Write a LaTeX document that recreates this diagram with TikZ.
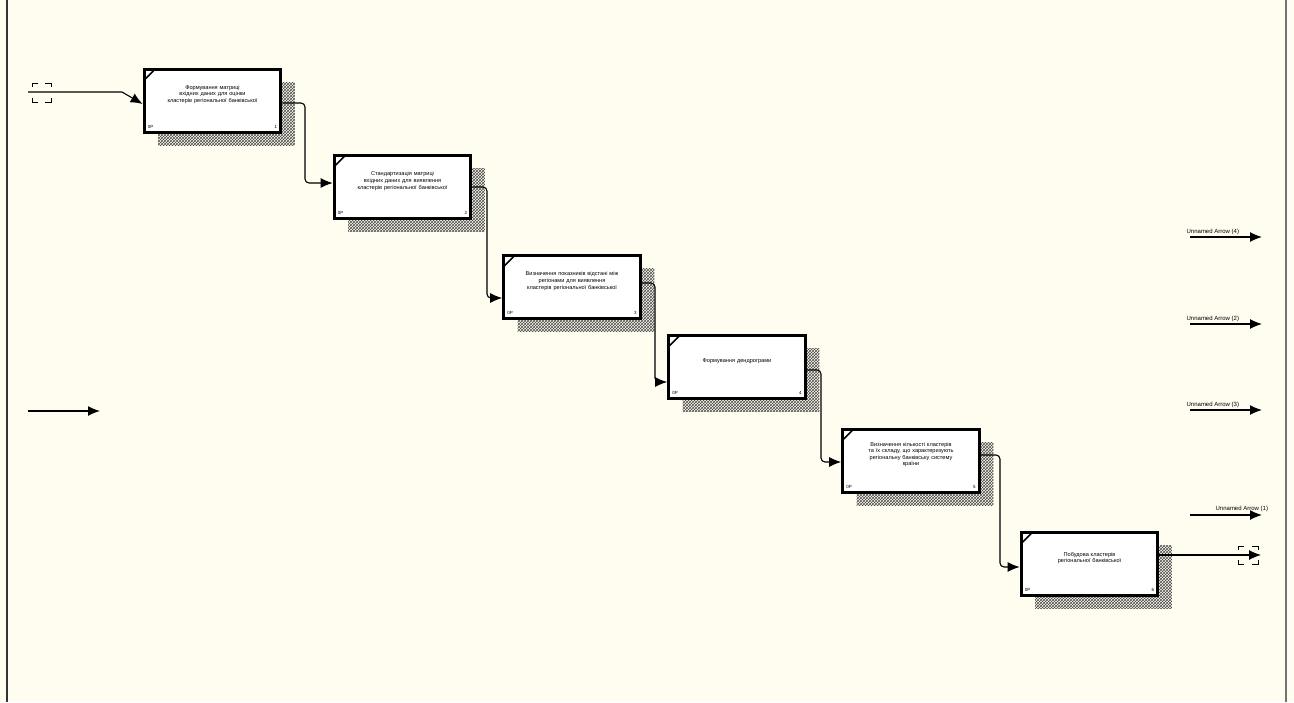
\documentclass[tikz,border=0pt]{standalone}
\usepackage{fontspec}
\setmainfont{Liberation Sans}
\usetikzlibrary{arrows.meta, patterns, shadows}

\definecolor{cream}{HTML}{FFFCF0}

\tikzset{
	box/.style={draw, line width=3pt, fill=white, minimum width=136pt, minimum height=63pt,
		align=center, text width=130pt, font=\fontsize{5.6}{6.6}\selectfont,
		execute at end node={\par\vspace*{12pt}},
		drop shadow={shadow xshift=14pt, shadow yshift=-13pt, opacity=1, pattern=crosshatch, pattern color=gray!60!black},
		path picture={\draw[line width=1.6pt] ([yshift=-11pt]path picture bounding box.north west) -- ([xshift=11pt]path picture bounding box.north west);}},
	num/.style={anchor=south east, inner sep=5pt, font=\fontsize{4.5}{4.5}\selectfont},
	cost/.style={anchor=south west, inner sep=5pt, font=\fontsize{4.5}{4.5}\selectfont},
	flow/.style={line width=1.1pt, rounded corners=4pt, ->},
	lbl/.style={font=\fontsize{6}{6.5}\selectfont, inner sep=1pt},
	tunnel/.style={line width=1pt}
}

\begin{document}
\begin{tikzpicture}[x=1pt, y=-1pt, >={Latex[length=12pt,width=10pt]}]

	\path[use as bounding box, fill=cream] (0,0) rectangle (1294,702);
	\draw[line width=2.5pt, black!80] (7,0) -- (7,702);
	\draw[line width=2pt, black!55] (1286,0) -- (1286,702);

	% activity boxes
	\node[box, label={[num]south east:1}, label={[cost]south west:0Р}] (b1) at (212.5,100.5)
		{Формування матриці\\ вхідних даних для оцінки\\ кластерів регіональної банківської};
	\node[box, label={[num]south east:2}, label={[cost]south west:0Р}] (b2) at (402.5,187)
		{Стандартизація матриці\\ вхідних даних для виявлення\\ кластерів регіональної банківської};
	\node[box, label={[num]south east:3}, label={[cost]south west:0Р}] (b3) at (572,287)
		{Визначення показників відстані між\\ регіонами для виявлення\\ кластерів регіональної банківської};
	\node[box, label={[num]south east:4}, label={[cost]south west:0Р}] (b4) at (737,367)
		{Формування дендрограми};
	\node[box, label={[num]south east:5}, label={[cost]south west:0Р}] (b5) at (911,460.5)
		{Визначення кількості кластерів\\ та їх складу, що характеризують\\ регіональну банківську систему\\ країни};
	\node[box, label={[num]south east:6}, label={[cost]south west:0Р}] (b6) at (1089.5,564)
		{Побудова кластерів\\ регіональної банківської};

	% input tunnel
	\coordinate (in1) at (28,92);
	\coordinate (k1) at (122,92);
	\draw[tunnel] (32,87) -- (32,83) -- (38,83) (45,83) -- (51,83) -- (51,87);
	\draw[tunnel] (32,98) -- (32,102) -- (38,102) (45,102) -- (51,102) -- (51,98);
	\draw[line width=1.1pt, ->] (in1) -- (k1) -- ([yshift=-3.5pt]b1.west);

	% sequence
	\draw[flow] ([yshift=-2.5pt]b1.east) -| (305,183) -- ([yshift=4pt]b2.west);
	\draw[flow] (b2.east) -| (487,298) -- ([yshift=-11pt]b3.west);
	\draw[flow] ([yshift=4pt]b3.east) -| (655,382) -- ([yshift=-15pt]b4.west);
	\draw[flow] ([yshift=-3pt]b4.east) -| (821,462) -- ([yshift=-1.5pt]b5.west);
	\draw[flow] ([yshift=5.5pt]b5.east) -| (1000,567) -- ([yshift=-3pt]b6.west);

	% output tunnel
	\coordinate (out6) at (1261,555);
	\draw[line width=1.1pt, ->] ([yshift=9pt]b6.east) -- (out6);
	\draw[tunnel] (1244,546) -- (1238,546) -- (1238,550) (1252,546) -- (1258,546) -- (1258,550);
	\draw[tunnel] (1244,564) -- (1238,564) -- (1238,560) (1252,564) -- (1258,564) -- (1258,560);

	% loose arrows
	\coordinate (l1) at (28,411);
	\coordinate (l2) at (100,411);
	\draw[line width=1.3pt, ->] (l1) -- (l2);

	\coordinate (r1a) at (1190,237);
	\coordinate (r1b) at (1262,237);
	\coordinate (r2a) at (1190,324);
	\coordinate (r2b) at (1262,324);
	\coordinate (r3a) at (1190,410);
	\coordinate (r3b) at (1262,410);
	\coordinate (r4a) at (1190,515);
	\coordinate (r4b) at (1262,515);
	\draw[line width=1.3pt, ->] (r1a) node[lbl, anchor=south west, xshift=-5pt, yshift=1pt] {Unnamed Arrow (4)} -- (r1b);
	\draw[line width=1.3pt, ->] (r2a) node[lbl, anchor=south west, xshift=-5pt, yshift=1pt] {Unnamed Arrow (2)} -- (r2b);
	\draw[line width=1.3pt, ->] (r3a) node[lbl, anchor=south west, xshift=-5pt, yshift=1pt] {Unnamed Arrow (3)} -- (r3b);
	\draw[line width=1.3pt, ->] (r4a) node[lbl, anchor=south west, xshift=24pt, yshift=2pt] {Unnamed Arrow (1)} -- (r4b);

\end{tikzpicture}
\end{document}
